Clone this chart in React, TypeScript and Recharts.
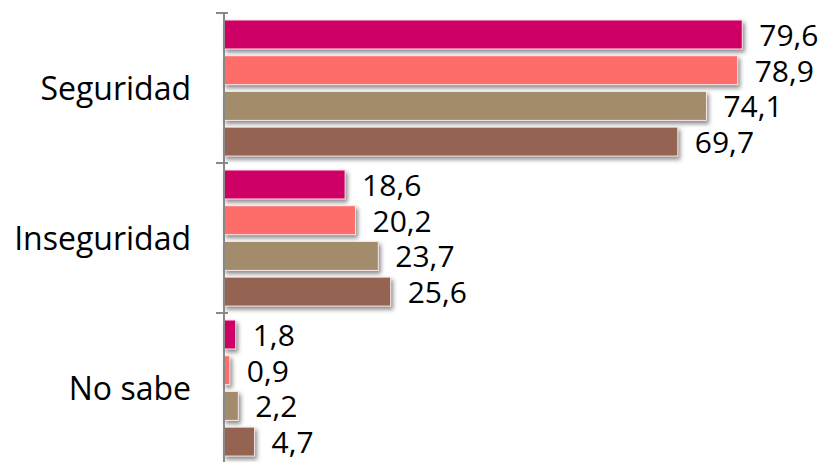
import React from 'react';
import { BarChart, Bar, XAxis, YAxis, LabelList } from 'recharts';

const categories = ['Seguridad', 'Inseguridad', 'No sabe'];
const serie1 = [79.6, 18.6, 1.8];
const serie2 = [78.9, 20.2, 0.9];
const serie3 = [74.1, 23.7, 2.2];
const serie4 = [69.7, 25.6, 4.7];
const xDomain = [0, 90];

const colors = ['#CE0066', '#FF6D6A', '#A38C6B', '#956352'];
const seriesKeys = ['s1', 's2', 's3', 's4'];

const data = categories.map((c, i) => ({
  name: c,
  s1: serie1[i],
  s2: serie2[i],
  s3: serie3[i],
  s4: serie4[i],
}));

const FONT = '"Open Sans", sans-serif';

const fmt = (v: number) => v.toFixed(1).replace('.', ',');

const ShadowBar = (props: any) => {
  const { x, y, width, height, fill } = props;
  if (width == null || height == null) return null;
  return (
    <rect
      x={x}
      y={y}
      width={Math.max(width, 0)}
      height={height}
      fill={fill}
      stroke="#FBE9EC"
      strokeWidth={1}
      style={{ filter: 'drop-shadow(2px 3px 2px rgba(0,0,0,0.45))' }}
    />
  );
};

const YTick = (props: any) => {
  const { x, y, payload, index, visibleTicksCount } = props;
  const off = payload.offset ?? 0;
  const axisX = x + 12;
  return (
    <g>
      <line x1={axisX - 12} x2={axisX} y1={y - off} y2={y - off} stroke="#888888" strokeWidth={2} />
      {index === (visibleTicksCount ?? 3) - 1 && (
        <line x1={axisX - 12} x2={axisX} y1={y + off} y2={y + off} stroke="#888888" strokeWidth={2} />
      )}
      <text
        x={axisX - 37}
        y={y}
        dy="0.36em"
        textAnchor="end"
        fontFamily={FONT}
        fontSize={32}
        fill="#000000"
      >
        {payload.value}
      </text>
    </g>
  );
};

const ValueLabel = (props: any) => {
  const { x, y, width, height, value } = props;
  return (
    <text
      x={x + width + 17}
      y={y + height / 2}
      dy="0.38em"
      textAnchor="start"
      fontFamily={FONT}
      fontSize={30}
      fill="#000000"
    >
      {fmt(value)}
    </text>
  );
};

export default function App() {
  return (
    <div style={{ position: 'absolute', left: 0, top: 0, width: 829, height: 470, background: '#ffffff' }}>
      <BarChart
        width={829}
        height={470}
        data={data}
        layout="vertical"
        margin={{ top: 13, right: 19, bottom: 7, left: 0 }}
        barSize={29}
        barGap={6.7}
        barCategoryGap={7}
      >
        <XAxis type="number" domain={xDomain} hide />
        <YAxis
          type="category"
          dataKey="name"
          width={224}
          axisLine={{ stroke: '#888888', strokeWidth: 2 }}
          tickLine={false}
          tick={<YTick />}
          interval={0}
        />
        {seriesKeys.map((k, i) => (
          <Bar key={k} dataKey={k} fill={colors[i]} isAnimationActive={false} shape={<ShadowBar />}>
            <LabelList dataKey={k} content={<ValueLabel />} />
          </Bar>
        ))}
      </BarChart>
    </div>
  );
}
